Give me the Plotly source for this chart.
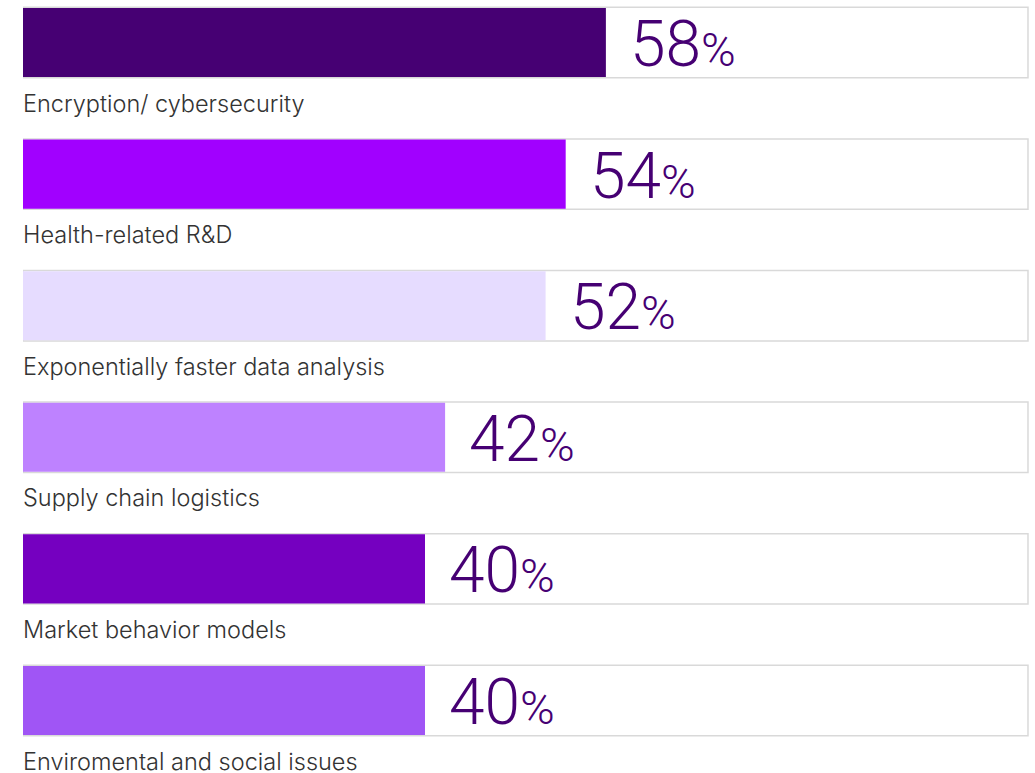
import plotly.graph_objects as go

categories = ["Encryption/ cybersecurity", "Health-related R&D", "Exponentially faster data analysis",
              "Supply chain logistics", "Market behavior models", "Enviromental and social issues"]
values = [58, 54, 52, 42, 40, 40]
colors = ["#460073", "#A100FF", "#E6DCFF", "#BE82FF", "#7500C0", "#A055F5"]
full_scale = [100] * len(categories)

rows = list(range(len(categories)))

fig = go.Figure()
fig.add_trace(go.Bar(
    x=full_scale, y=rows, orientation="h", width=0.535,
    marker=dict(color="white", line=dict(color="#d9d9d9", width=1.5)),
    hoverinfo="skip", showlegend=False, cliponaxis=False))
fig.add_trace(go.Bar(
    x=values, y=rows, orientation="h", width=0.525,
    marker=dict(color=colors, line=dict(width=0)),
    showlegend=False))

for i, (cat, v) in enumerate(zip(categories, values)):
    fig.add_annotation(x=0, y=i + 0.46, text=cat, xanchor="left", yanchor="middle",
                       showarrow=False, xshift=-2,
                       font=dict(family="Inter", size=23.5, color="#333333", weight=300))
    fig.add_annotation(x=v, y=i, text=f"{v}<span style='font-size:47px'>%</span>",
                       xanchor="left", yanchor="middle", showarrow=False, xshift=22, yshift=-2,
                       font=dict(family="Roboto", size=64, color="#460073", weight=300))

fig.update_layout(
    width=1035, height=773, barmode="overlay",
    margin=dict(l=23, r=5, t=0, b=0),
    paper_bgcolor="white", plot_bgcolor="white",
    xaxis=dict(range=[0, 100.2], visible=False, fixedrange=True),
    yaxis=dict(range=[5.551, -0.323], visible=False, fixedrange=True),
)
fig.write_html("out.html", config={"displayModeBar": False},
               post_script="document.body.style.margin='0';document.body.style.overflow='hidden';")
